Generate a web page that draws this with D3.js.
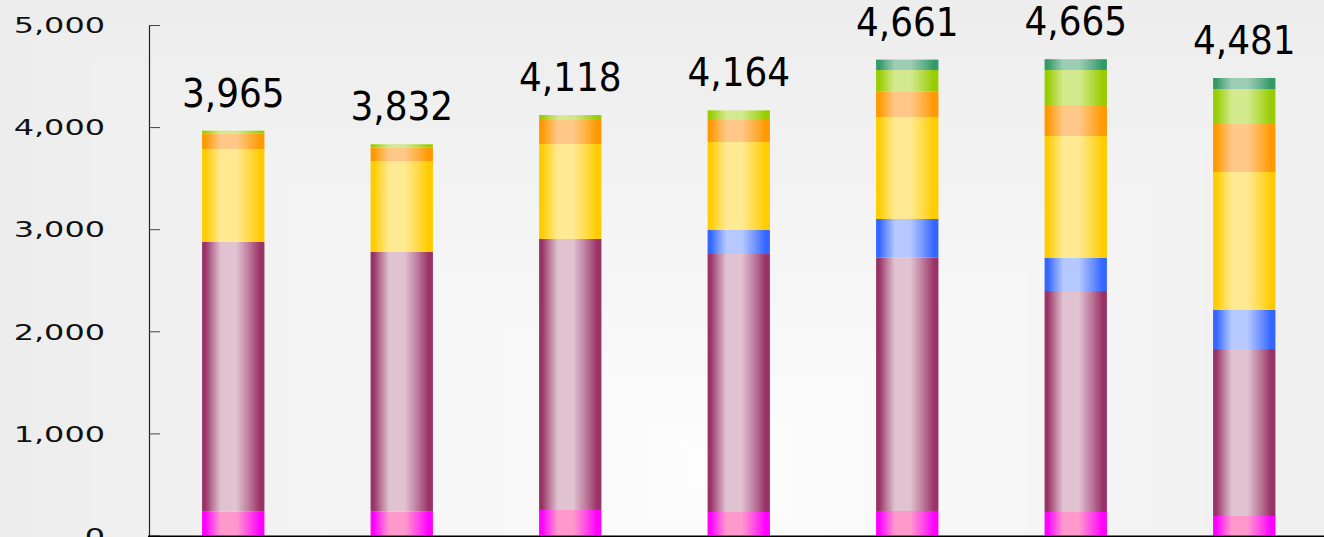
<!DOCTYPE html>
<html>
<head>
<meta charset="utf-8">
<script src="https://cdn.jsdelivr.net/npm/d3@7"></script>
<style>
  html, body { margin: 0; padding: 0; background: #eeeeee; overflow: hidden; }
  svg { display: block; }
</style>
</head>
<body>
<svg id="chart" width="1324" height="537"></svg>
<script>
// ---- data ----
const categories = ["1", "2", "3", "4", "5", "6", "7"];
const seriesNames = ["Series 1", "Series 2", "Series 3", "Series 4", "Series 5", "Series 6", "Series 7"];
const series1 = [233, 233, 250, 230, 240, 230, 191];        // magenta
const series2 = [2644, 2544, 2654, 2527, 2481, 2165, 1636]; // plum
const series3 = [0, 0, 0, 235, 379, 326, 382];              // blue
const series4 = [908, 890, 930, 862, 999, 1192, 1351];      // yellow
const series5 = [154, 135, 236, 216, 248, 303, 470];        // orange
const series6 = [26, 30, 48, 94, 212, 343, 343];            // light green
const series7 = [0, 0, 0, 0, 102, 106, 108];                // sea green
const yTicks = [0, 1000, 2000, 3000, 4000, 5000];

const seriesValues = [series1, series2, series3, series4, series5, series6, series7];
const darkColors  = ["#FF00FF", "#993366", "#3366FF", "#FFCC00", "#FF9900", "#99CC00", "#339966"];
const lightColors = ["#FF99CC", "#E0C2D1", "#B5C8FF", "#FFE992", "#FFC888", "#D3E98E", "#9ECDB6"];

// ---- layout ----
const W = 1324, H = 537;
const svg = d3.select("#chart");
const defs = svg.append("defs");

// background: rectangular "from centre" gradient
const bg = svg.append("g");
const cx = 720, cy = 470, hw = 720, hh = 470;
const bgColor = d3.interpolateRgb("#FFFFFF", "#EDEDED");
bg.append("rect").attr("x", 0).attr("y", 0).attr("width", W).attr("height", H).attr("fill", "#EDEDED");
const N = 40;
for (let i = N; i >= 1; i--) {
  const t = i / N;
  bg.append("rect")
    .attr("x", cx - t * hw).attr("y", cy - t * hh)
    .attr("width", 2 * t * hw).attr("height", 2 * t * hh)
    .attr("fill", bgColor(Math.pow(t, 0.75)));
}

const axisX = 149;
const y0 = 535.5, yTop = 25;
const x = d3.scaleBand().domain(categories).range([axisX, 1328.5]).paddingInner(0.63).paddingOuter(0.315);
const y = d3.scaleLinear().domain([0, 5000]).range([y0, yTop]);

// gradients for bars
seriesNames.forEach((s, i) => {
  const g = defs.append("linearGradient").attr("id", "grad" + i)
    .attr("x1", 0).attr("x2", 1).attr("y1", 0).attr("y2", 0);
  const mid = d3.interpolateRgb(darkColors[i], lightColors[i])(0.5);
  [[0, darkColors[i]], [0.05, darkColors[i]], [0.17, mid], [0.3, lightColors[i]],
   [0.55, lightColors[i]], [0.75, mid], [0.93, darkColors[i]], [1, darkColors[i]]]
    .forEach(([o, c]) => g.append("stop").attr("offset", o).attr("stop-color", c));
});

// stacked data
const table = categories.map((c, j) => {
  const row = { cat: c };
  seriesNames.forEach((s, i) => row[s] = seriesValues[i][j]);
  return row;
});
const stacked = d3.stack().keys(seriesNames)(table);

const barsG = svg.append("g");
stacked.forEach((layer, i) => {
  barsG.append("g").attr("fill", "url(#grad" + i + ")")
    .selectAll("rect").data(layer.filter(d => d[1] - d[0] > 0)).join("rect")
    .attr("x", d => x(d.data.cat))
    .attr("width", x.bandwidth())
    .attr("y", d => y(d[1]))
    .attr("height", d => y(d[0]) - y(d[1]));
});

// total labels
const totals = categories.map((c, j) => d3.sum(seriesValues, s => s[j]));
svg.append("g").selectAll("text").data(categories).join("text")
  .attr("transform", (c, j) => `translate(${x(c) + x.bandwidth() / 2},${y(totals[j]) - 24}) scale(0.92,1)`)
  .attr("text-anchor", "middle")
  .attr("font-family", "DejaVu Sans, Verdana, sans-serif")
  .attr("font-size", 39)
  .attr("fill", "#000")
  .text((c, j) => d3.format(",")(totals[j]));

// y axis
const yAxis = svg.append("g").attr("transform", `translate(${axisX},0)`)
  .call(d3.axisLeft(y).tickValues(yTicks).tickFormat(d3.format(",")).tickSizeInner(-11).tickSizeOuter(0).tickPadding(44));
yAxis.select(".domain").attr("stroke", "#222").attr("stroke-width", 1.2);
yAxis.selectAll(".tick line").attr("stroke", "#444");
yAxis.selectAll(".tick text")
  .attr("x", null).attr("dy", null)
  .attr("transform", "translate(-44,7.7) scale(1.52,1)")
  .attr("text-anchor", "end")
  .attr("font-family", "DejaVu Sans, Verdana, sans-serif")
  .attr("font-size", 21)
  .attr("fill", "#111");

// x axis (baseline only; category labels lie below the visible area)
const xAxis = svg.append("g").attr("transform", `translate(0,${y0 + 1})`)
  .call(d3.axisBottom(x).tickSize(0).tickFormat(""));
xAxis.select(".domain").attr("d", `M${axisX - 1},0H${W}`).attr("stroke", "#000").attr("stroke-width", 2);
</script>
</body>
</html>
